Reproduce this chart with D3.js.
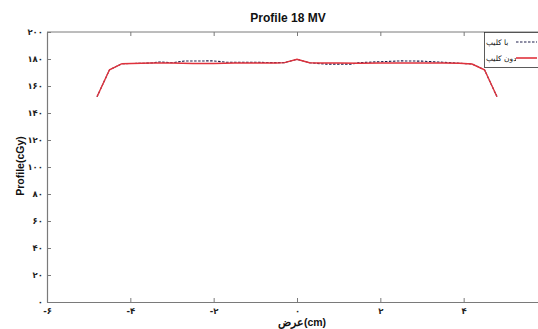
<!DOCTYPE html>
<html>
<head>
<meta charset="utf-8">
<script src="https://cdn.jsdelivr.net/npm/d3@7"></script>
<style>
  body { margin: 0; background: #fff; }
  svg { display: block; font-family: "Liberation Sans", Arial, sans-serif; }
</style>
</head>
<body>
<svg width="538" height="329"></svg>
<script>
// values
const xTicks = [-6, -4, -2, 0, 2, 4];
const yTicks = [0, 20, 40, 60, 80, 100, 120, 140, 160, 180, 200];

const clipX = [-4.8, -4.5, -4.2, -3.5, -3.3, -3.0, -2.7, -2.0, -1.7, -1.0, -0.6, -0.3, 0, 0.3, 0.7, 1.0, 1.3, 1.5, 2.0, 2.5, 3.0, 3.5, 3.9, 4.2, 4.5, 4.8];
const clipY = [152, 172, 176.5, 177, 177.8, 177.2, 178.5, 178.6, 177.6, 177.6, 177.3, 177.3, 179.8, 177.2, 176.2, 176.2, 176.2, 177.3, 178, 178.6, 178.4, 177.6, 176.8, 176.3, 172, 152];

const noClipX = [-4.8, -4.5, -4.2, -3.5, -3.0, -2.5, -2.0, -1.5, -1.0, -0.5, -0.3, 0, 0.3, 0.5, 1.0, 1.5, 2.0, 2.5, 3.0, 3.5, 3.9, 4.2, 4.5, 4.8];
const noClipY = [152, 172, 176.5, 177, 177, 176.7, 176.7, 177, 177, 177, 177.3, 179.8, 177.2, 177, 177, 176.8, 177, 177, 177, 177, 176.8, 176.3, 172, 152];

const legendLabels = ['با کلیپ', 'بدون کلیپ'];

const faDigits = s => String(s).replace(/\d/g, d => '۰۱۲۳۴۵۶۷۸۹'[d]);

const svg = d3.select('svg');
const pL = 47, pR = 547, pT = 32, pB = 302;

const scX = d3.scaleLinear().domain([-6, 6]).range([pL, pR]);
const scY = d3.scaleLinear().domain([0, 200]).range([pB, pT]);

// frame
const axColor = '#7a7a7a';
svg.append('line').attr('x1', pL).attr('x2', pR).attr('y1', pT).attr('y2', pT)
  .attr('stroke', axColor);

const styleAxis = g => {
  g.select('.domain').attr('stroke', axColor).attr('stroke-width', 1.2);
  g.selectAll('.tick line').attr('stroke', axColor);
  g.selectAll('.tick text').attr('fill', '#222').attr('font-weight', 'bold')
    .attr('font-family', '"DejaVu Sans", sans-serif').attr('font-size', 8.5);
};

svg.append('g').attr('transform', 'translate(0,' + pB + ')')
  .call(d3.axisBottom(scX).tickValues(xTicks).tickSizeInner(-4).tickSizeOuter(0)
    .tickPadding(6).tickFormat(d => d < 0 ? '-' + faDigits(-d) : faDigits(d)))
  .call(styleAxis);

svg.append('g').attr('transform', 'translate(0,' + pT + ')')
  .call(d3.axisTop(scX).tickValues(xTicks).tickSizeInner(-4).tickSizeOuter(0).tickFormat(''))
  .call(g => g.select('.domain').remove())
  .call(g => g.selectAll('.tick line').attr('stroke', axColor));

svg.append('g').attr('transform', 'translate(' + pL + ',0)')
  .call(d3.axisLeft(scY).tickValues(yTicks).tickSizeInner(-4).tickSizeOuter(0)
    .tickPadding(4).tickFormat(faDigits))
  .call(styleAxis);

// lines
const lnMkr = (xs) => d3.line().x((d, i) => scX(xs[i])).y(d => scY(d));

svg.append('path').attr('fill', 'none').attr('stroke', '#1c1c4a')
  .attr('stroke-width', 1.1).attr('stroke-dasharray', '2.5,1.5')
  .attr('d', lnMkr(clipX)(clipY));

svg.append('path').attr('fill', 'none').attr('stroke', '#e0323c')
  .attr('stroke-width', 1.4)
  .attr('d', lnMkr(noClipX)(noClipY));

// title and labels
svg.append('text').attr('x', 288).attr('y', 22).attr('text-anchor', 'middle')
  .attr('font-weight', 'bold').attr('font-size', 12).attr('fill', '#111')
  .text('Profile 18 MV');

svg.append('text').attr('transform', 'translate(24,166) rotate(-90)')
  .attr('text-anchor', 'middle').attr('font-weight', 'bold').attr('font-size', 10.5)
  .attr('fill', '#111').text('Profile(cGy)');

svg.append('text').attr('x', 302).attr('y', 326).attr('text-anchor', 'middle')
  .attr('font-weight', 'bold').attr('font-size', 10.5).attr('fill', '#111')
  .text('عرض(cm)');

// legend (text overflows under the line sample, as in the original)
svg.append('clipPath').attr('id', 'lgclip').append('rect')
  .attr('x', 485).attr('y', 32).attr('width', 31).attr('height', 36);
const lg = svg.append('g');
lg.append('rect').attr('x', 484.5).attr('y', 32.5).attr('width', 60).attr('height', 35)
  .attr('fill', '#fff').attr('stroke', '#333').attr('stroke-width', 0.8);
const rows = lg.selectAll('g.row').data(legendLabels).enter().append('g');
rows.append('g').attr('clip-path', 'url(#lgclip)')
  .append('text').attr('x', 486).attr('y', (d, i) => 45 + i * 16)
  .attr('text-anchor', 'start').attr('direction', 'ltr')
  .attr('font-family', '"DejaVu Sans", sans-serif').attr('font-size', 7.5).attr('fill', '#111')
  .text(d => d);
rows.append('line').attr('x1', 516).attr('x2', 537)
  .attr('y1', (d, i) => 42 + i * 16).attr('y2', (d, i) => 42 + i * 16)
  .attr('stroke', (d, i) => i ? '#e0323c' : '#1c1c4a')
  .attr('stroke-width', (d, i) => i ? 1.6 : 1.1)
  .attr('stroke-dasharray', (d, i) => i ? null : '2.5,1.5');
</script>
</body>
</html>
